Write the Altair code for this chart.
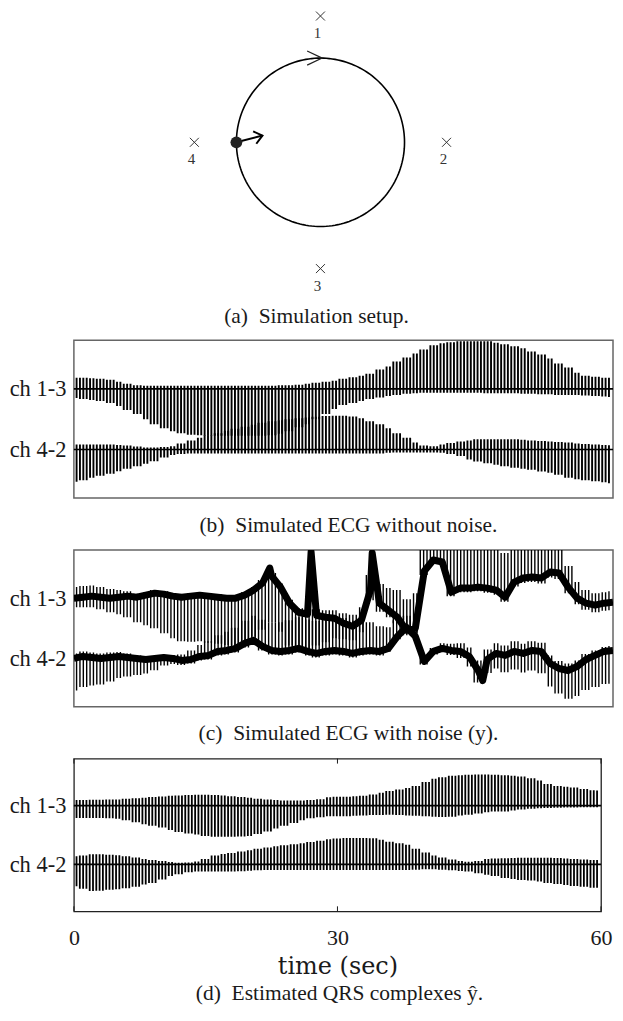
import altair as alt
import numpy as np
import pandas as pd

# ------------------------------------------------------------------ data
# envelope readings, one per second (t = 0 .. 60), amplitude units
B13_UP = [11, 11, 10.5, 10, 9, 7, 5, 3.5, 3, 3, 3, 3, 3, 3, 3, 3, 3, 3, 3, 3, 3, 3, 3, 3.5, 3.5,
          4, 5, 6, 7, 8, 10, 11.5, 13, 15, 19, 22, 27, 31, 35, 39, 43, 45, 46, 47, 47, 47, 47, 45.5,
          44, 42, 40, 37, 34, 30, 25, 21, 16, 13, 12, 11, 11]
B13_DOWN = [9, 10, 11, 12, 14, 17, 21, 25, 30, 35, 39, 42, 44, 45.5, 46, 46.5, 46.5, 46.5, 46.5,
            46.5, 46.5, 46.5, 46, 44.5, 42, 38, 35, 30, 25, 20, 16, 14, 12, 10, 8.5, 7, 6, 5, 4.5,
            4, 4, 4, 4, 4, 4, 4, 4.5, 4.5, 4.5, 4.5, 5, 5, 5.5, 5.5, 6, 6, 6, 6.5, 7, 7.5, 8]
B42_UP = [5, 5, 5, 5, 5, 4.5, 4, 3, 2, 2, 2.5, 3.3, 6, 9, 11.5, 14, 16, 18.5, 20.5, 22.5, 24.5,
          26.5, 28, 29, 30, 31, 31.7, 32.3, 33, 33.3, 33.3, 32.5, 31, 28, 25, 21, 16, 11.5, 7, 4,
          3.3, 5, 6.5, 8, 9, 10, 10, 10, 10, 10, 9.5, 9, 8.5, 8, 7.5, 7, 6, 5.5, 5, 4.5, 4.3]
B42_DOWN = [32, 30.5, 28, 26, 24, 21.5, 19, 16.5, 14, 11.7, 8, 5.5, 4.5,
            4, 4, 4, 4, 4, 4, 4, 4, 4, 4, 4, 4, 4, 4, 4, 4, 4, 4, 4, 4, 4, 4,
            3.3, 3, 3, 3, 3, 3, 3.3, 4.5, 6.5, 10, 12, 13.5, 15, 16.7, 18, 19, 20, 21.7, 23,
            25, 28, 29.5, 30.5, 31.5, 32.5, 33.3]

D13_UP = [5.7, 5.7, 6, 6, 6.3, 6.3, 7, 7.5, 8, 8.7, 9.3, 10, 10.3, 10.7, 11, 11, 10.7, 10.3, 9.5,
          8.7, 8, 7, 6.3, 5.7, 5.3, 5.3, 5.3, 5.7, 6.5, 8.5, 9, 9, 9.5, 10, 11.3, 13, 15, 16.5, 18,
          20, 24, 27.3, 29, 30.5, 31, 31.5, 31.7, 31.7, 31.5, 31, 30.5, 29.7, 28, 25.7, 22, 20,
          19.3, 18.5, 17, 15.7, 15.5]
D13_DOWN = [12.7, 12.7, 12.7, 12.7, 13, 13.5, 15, 17, 19, 20.5, 22.5, 25, 27, 28.5, 29.5, 31,
            31.7, 31.7, 31.7, 31.5, 31, 29, 26.5, 23.5, 20.5, 17.7, 15, 13, 12, 11, 11, 11, 10.5,
            10, 9.7, 9.5, 9.3, 9.5, 10, 10.5, 11, 11.3, 11.7, 11.3, 10, 9.3, 8, 6.7, 6, 6, 5, 4,
            3.3, 2.7, 2.5, 2.3, 2, 2, 1.7, 1.7, 1.7]
D42_UP = [8.3, 9, 10.3, 10.3, 9.7, 9.3, 8.3, 7, 5.5, 4.5, 3.5, 2.3, 1.7, 2, 3, 5.5, 9, 10.5, 11.7,
          13, 14.5, 16, 17.3, 18.5, 19.5, 20.5, 21.5, 22.7, 24, 25.5, 26.5, 27, 27, 27, 26.7, 25,
          23, 21.5, 20, 16, 12, 9, 7, 5, 3.5, 2.7, 3.5, 5.5, 6, 6.3, 6.5, 6.7, 6.7, 6.7, 6.7, 6.5,
          6, 5.5, 5, 4.5, 4.3]
D42_DOWN = [22.3, 25, 27.3, 27, 26, 25.5, 24.5, 23, 20.5, 19, 15.5, 12, 10, 8, 7.3, 7.3, 7.3,
            7.3, 7.3, 7, 6.5, 6,
            5.7, 5.7, 5.7, 5.7, 5.7, 5.7, 5.7, 5.7, 5.7, 5.7, 5.7, 5.7, 5.7, 5.7, 5.7, 5.7, 5.7,
            5.5, 5, 5, 5.5, 6, 6.7, 7.3, 9, 10.7, 12, 14, 15, 16, 16.5, 17.5, 19, 20, 21, 22, 23,
            24, 24]

# noisy recording: level of the noisy trace, one per second, plus a few sharp peaks
C13_LEVEL = [30, 31, 32, 31, 30, 31, 32, 31, 33, 35, 34, 32, 31, 32, 33, 32, 31, 30, 30, 33,
             38, 45, 52, 41, 25, 16, 14, 13, 11, 10, 5, 2, 8, 38, 25, 18, 11, -2, 0, 57, 68, 66,
             36, 40, 40, 41, 40, 38, 31, 46, 50, 51, 50, 56, 55, 41, 30, 25, 23, 25, 26]
C42_LEVEL = [-30, -28, -29, -30, -29, -28, -29, -30, -31, -30, -29, -30, -32, -31, -28, -27,
             -23, -22, -20, -15, -12, -18, -22, -23, -22, -20, -23, -25, -23, -22, -23, -25, -23,
             -22, -23, -20, -8, 1, -8, -33, -23, -20, -22, -23, -28, -42, -31, -25, -27, -23,
             -25, -22, -23, -35, -40, -42, -38, -31, -27, -23, -22]
C13_PEAK_T = [21.8, 26.4, 33.2]
C13_PEAK_V = [60, 76, 75]
C42_PEAK_T = [45.5]
C42_PEAK_V = [-52]

SECONDS = list(range(61))
BEAT_START, BEAT_PERIOD, BEAT_END = 0.3, 0.375, 59.6
CHANNELS = ["ch 1-3", "ch 4-2"]
CH_OFFSET = [30, -30]
TIME_TICKS = [0, 30, 60]

# simulation setup
SENSOR_ID = ["1", "2", "3", "4"]
SENSOR_X = [0.0, 1.5, 0.0, -1.5]
SENSOR_Y = [1.5, 0.0, -1.5, 0.0]
ORBIT_R = 1.0
HEART_X, HEART_Y = [-1.0], [0.0]
DIPOLE_X, DIPOLE_Y = [-0.69], [0.08]
DIR_X, DIR_Y = [0.02], [1.0]

# ------------------------------------------------------------------ frames
beats = np.arange(BEAT_START, BEAT_END, BEAT_PERIOD)
sec = np.rint(beats).astype(int)


def spikes(up13, dn13, up42, dn42, lvl13=None, lvl42=None):
    rows = []
    for ch, off, up, dn, lvl in [(CHANNELS[0], CH_OFFSET[0], up13, dn13, lvl13),
                                 (CHANNELS[1], CH_OFFSET[1], up42, dn42, lvl42)]:
        up = np.array(up)[sec]
        dn = np.array(dn)[sec]
        base = np.array(lvl)[sec] if lvl is not None else off
        rows.append(pd.DataFrame({"t": beats, "ch": ch, "lo": base - dn, "hi": base + up}))
    return pd.concat(rows, ignore_index=True)


df_b = spikes(B13_UP, B13_DOWN, B42_UP, B42_DOWN)
df_c = spikes(B13_UP, B13_DOWN, B42_UP, B42_DOWN, C13_LEVEL, C42_LEVEL)
df_d = spikes(D13_UP, D13_DOWN, D42_UP, D42_DOWN)

lvl = pd.concat([
    pd.DataFrame({"t": SECONDS + C13_PEAK_T, "v": C13_LEVEL + C13_PEAK_V, "ch": CHANNELS[0]}),
    pd.DataFrame({"t": SECONDS + C42_PEAK_T, "v": C42_LEVEL + C42_PEAK_V, "ch": CHANNELS[1]}),
]).sort_values(["ch", "t"])

base_df = pd.DataFrame({"off": CH_OFFSET, "ch": CHANNELS})
tick_df = pd.DataFrame({"t": TIME_TICKS})

ang = np.deg2rad(np.arange(0, 361, 2))
orbit = pd.DataFrame({"x": ORBIT_R * np.cos(ang), "y": ORBIT_R * np.sin(ang),
                      "i": np.arange(len(ang))})
sensors = pd.DataFrame({"id": SENSOR_ID, "x": SENSOR_X, "y": SENSOR_Y})
heart = pd.DataFrame({"x": HEART_X, "y": HEART_Y, "x2": DIPOLE_X, "y2": DIPOLE_Y})
heart["ang"] = (360 - np.degrees(np.arctan2(heart["y2"] - heart["y"],
                                            heart["x2"] - heart["x"]))) % 360
direction = pd.DataFrame({"x": DIR_X, "y": DIR_Y})

# ------------------------------------------------------------------ style
SERIF = "Liberation Serif"
INK = "#1a1a1a"
W, WD = 540, 528
xs = alt.Scale(domain=[0, 60], nice=False, zero=False)
ys = alt.Scale(domain=[-78, 78], nice=False, zero=False)


def caption(text, dx, offset):
    return alt.TitleParams(text=text, orient="bottom", anchor="middle", font=SERIF,
                           fontSize=21.5, fontWeight="normal", color=INK, dx=dx,
                           offset=offset, baseline="top")


yaxis = alt.Axis(values=CH_OFFSET, labelExpr="datum.value > 0 ? 'ch 1-3' : 'ch 4-2'",
                 labelFont=SERIF, labelFontSize=22.5, labelColor=INK, labelPadding=8,
                 ticks=False, domain=False, grid=False, title=None)


def ecg_layers(df, sw, xaxis=None, level=None):
    layers = []
    if level is not None:
        layers.append(alt.Chart(level).mark_line(color="black", strokeWidth=7,
                                                 strokeJoin="round", clip=True).encode(
            x=alt.X("t:Q", scale=xs, axis=xaxis),
            y=alt.Y("v:Q", scale=ys, axis=yaxis), detail="ch:N"))
    layers.append(alt.Chart(df).mark_rule(color="black", strokeWidth=sw, clip=True).encode(
        x=alt.X("t:Q", scale=xs, axis=xaxis),
        y=alt.Y("lo:Q", scale=ys, axis=yaxis), y2="hi:Q"))
    if level is None:
        layers.append(alt.Chart(base_df).mark_rule(color="black", strokeWidth=1.7).encode(
            y=alt.Y("off:Q", scale=ys, axis=yaxis)))
    return layers


# ---- panel a
ax = alt.Scale(domain=[-2.933, 3.48], nice=False, zero=False)
ay = alt.Scale(domain=[-1.806, 1.55], nice=False, zero=False)
X = lambda f: alt.X(f, scale=ax, axis=None)
Y = lambda f: alt.Y(f, scale=ay, axis=None)

orbit_l = alt.Chart(orbit).mark_line(color="black", strokeWidth=1.6).encode(
    x=X("x:Q"), y=Y("y:Q"), order="i:Q")
cross = alt.Chart(sensors).mark_point(shape="M -1 -1 L 1 1 M -1 1 L 1 -1", size=81,
                                      filled=False, color="#333", strokeWidth=1,
                                      opacity=1).encode(x=X("x:Q"), y=Y("y:Q"))
lab = alt.Chart(sensors).mark_text(font=SERIF, fontSize=15, color="#333", dx=-3, dy=17,
                                   baseline="middle").encode(x=X("x:Q"), y=Y("y:Q"),
                                                             text="id:N")
shaft = alt.Chart(heart).mark_rule(color="black", strokeWidth=2).encode(
    x=X("x:Q"), y=Y("y:Q"), x2="x2:Q", y2="y2:Q")
head = alt.Chart(heart).mark_point(shape="M -1 -0.8 L 0 0 L -1 0.8", size=256, filled=False,
                                   color="black", strokeWidth=2, opacity=1).encode(
    x=X("x2:Q"), y=Y("y2:Q"), angle=alt.Angle("ang:Q", scale=None))
dot = alt.Chart(heart).mark_point(shape="circle", size=140, filled=True, color="#222",
                                  opacity=1).encode(x=X("x:Q"), y=Y("y:Q"))
chev = alt.Chart(direction).mark_point(shape="M -1 -0.47 L 0 0 L -1 0.47", size=900,
                                       filled=False, color="#222", strokeWidth=1.2,
                                       opacity=1).encode(x=X("x:Q"), y=Y("y:Q"))

panel_a = alt.layer(orbit_l, cross, lab, shaft, head, dot, chev).properties(
    width=W, height=283, view=alt.ViewBackground(stroke="transparent"),
    title=caption("(a)\u00a0 Simulation setup.", -27, 12))

frame_bc = alt.ViewBackground(stroke="#666", strokeWidth=1.5)
panel_b = alt.layer(*ecg_layers(df_b, 1.9)).properties(
    width=W, height=158, view=frame_bc,
    title=caption("(b)\u00a0 Simulated ECG without noise.", 5, 17))
panel_c = alt.layer(*ecg_layers(df_c, 1.4, level=lvl)).properties(
    width=W, height=157, view=frame_bc,
    title=caption("(c)\u00a0 Simulated ECG with noise (y).", 5, 16))

xaxis_d = alt.Axis(values=TIME_TICKS, orient="bottom", ticks=False, domain=False, grid=False,
                   labelFont=SERIF, labelFontSize=22, labelColor=INK, labelPadding=16,
                   labelFlush=False, title="time (sec)", titleFont="DejaVu Serif",
                   titleFontSize=24, titleFontWeight="normal", titleColor=INK,
                   titlePadding=6)
tick_top = alt.Chart(tick_df).mark_rule(color=INK, strokeWidth=1).encode(
    x=alt.X("t:Q", scale=xs, axis=xaxis_d), y=alt.value(0), y2=alt.value(5))
tick_bot = alt.Chart(tick_df).mark_rule(color=INK, strokeWidth=1).encode(
    x=alt.X("t:Q", scale=xs, axis=xaxis_d), y=alt.value(148), y2=alt.value(153))
frame_d = alt.ViewBackground(stroke="#222", strokeWidth=1.3)
panel_d = alt.layer(*ecg_layers(df_d, 1.8, xaxis=xaxis_d), tick_top, tick_bot).properties(
    width=WD, height=153, view=frame_d,
    title=caption("(d)\u00a0 Estimated QRS complexes \u0177.", 2, 5))

chart = alt.vconcat(panel_a, panel_b, panel_c, panel_d, spacing=11).properties(
    padding=0).configure(background="white")

chart.save("out.html", embed_options={"renderer": "svg", "actions": False})
